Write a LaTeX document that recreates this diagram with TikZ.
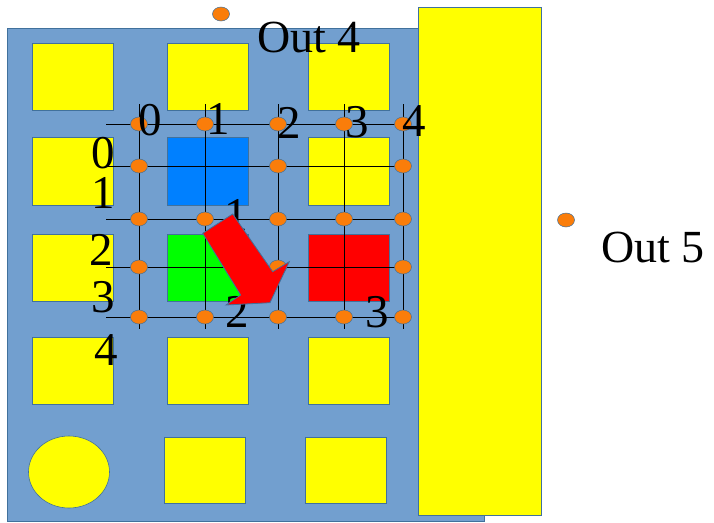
\documentclass[tikz,border=0pt]{standalone}
\usepackage{fontspec}
\setmainfont{Liberation Serif}
\newfontfamily\labfont{Liberation Serif}
\usetikzlibrary{shapes.geometric}
\definecolor{bgblue}{RGB}{114,159,207}
\definecolor{edge}{RGB}{65,113,156}
\definecolor{dotor}{RGB}{250,125,10}
\definecolor{sqblue}{RGB}{0,128,255}
\definecolor{ylw}{RGB}{255,255,0}
\begin{document}
\begin{tikzpicture}[x=1pt,y=-1pt,
  shapebox/.style={draw=edge,line width=0.6pt},
  gridline/.style={draw=black,line width=0.9pt},
  dotnode/.style={ellipse,draw=edge,fill=dotor,line width=0.5pt,minimum width=17pt,minimum height=14pt,inner sep=0pt},
  lab/.style={font=\labfont\fontsize{47}{47}\selectfont,inner sep=0pt,anchor=base},
  outlab/.style={font=\labfont\fontsize{46}{46}\selectfont,inner sep=0pt,anchor=base west}]
\useasboundingbox (0,0) rectangle (714,522);
% background board
\fill[bgblue,shapebox] (7,28) rectangle (484,521);
% yellow squares
\foreach \x in {32,167,308}{
  \fill[ylw,shapebox] (\x,43) rectangle ++(81,67);
  \fill[ylw,shapebox] (\x,337) rectangle ++(81,67);
}
\fill[ylw,shapebox] (32,137) rectangle ++(81,68);
\fill[ylw,shapebox] (308,137) rectangle ++(81,68);
\fill[ylw,shapebox] (32,234) rectangle ++(81,67);
\fill[sqblue,shapebox] (167,137) rectangle ++(81,68);
\fill[green,shapebox] (167,234) rectangle ++(81,67);
\fill[red,shapebox] (308,234) rectangle ++(81,67);
\fill[ylw,shapebox] (164,437) rectangle ++(81,66);
\fill[ylw,shapebox] (305,437) rectangle ++(81,66);
\fill[ylw,shapebox] (69,472) ellipse [x radius=40.5, y radius=36];
% tall yellow bar
\fill[ylw,shapebox] (418,7) rectangle (541,515);
% grid
\foreach \r/\y in {0/124,1/166,2/219,3/267,4/317}{
  \coordinate (hl\r) at (106,\y);
  \coordinate (hr\r) at (410,\y);
  \draw[gridline] (hl\r) -- (hr\r);
}
\foreach \c/\x in {0/139,1/205,2/278,3/344,4/403}{
  \coordinate (vt\c) at (\x,104);
  \coordinate (vb\c) at (\x,329);
  \draw[gridline] (vt\c) -- (vb\c);
}
% dots
\foreach \r/\y in {0/124,2/219,4/317}{
  \foreach \c/\x in {0/139,1/205,2/278,3/344,4/403}{
    \node[dotnode] (d\r\c) at (\x,\y) {};
  }
}
\foreach \r/\y in {1/166,3/267}{
  \foreach \c/\x in {0/139,2/278,4/403}{
    \node[dotnode] (d\r\c) at (\x,\y) {};
  }
}
\node[dotnode] (out4dot) at (221,14) {};
\node[dotnode] (out5dot) at (566,220) {};
% labels
\node[lab] (c0) at (150,135) {0};
\node[lab] (c1) at (218,134) {1};
\node[lab] (c2) at (289,138) {2};
\node[lab] (c3) at (357,137) {3};
\node[lab] (c4) at (414,136) {4};
\node[lab] (r0) at (103,168) {0};
\node[lab] (r1) at (103,208) {1};
\node[lab] (r2) at (101,265) {2};
\node[lab] (r3) at (103,312) {3};
\node[lab] (r4) at (106,365) {4};
\node[lab] (i1) at (236,230) {1};
\node[lab] (i2) at (237,327) {2};
\node[lab] (i3) at (377,327) {3};
\node[outlab] (out4) at (257,52) {Out 4};
\node[outlab] (out5) at (601,262) {Out 5};
% arrow
\draw[fill=red,draw=edge,line width=0.8pt,line join=miter]
  (202.7,233.3) -- (232.7,214) -- (272.7,271.7) -- (289.3,261.7)
  -- (270,302.7) -- (226,305) -- (240.7,295) -- cycle;
\end{tikzpicture}
\end{document}
